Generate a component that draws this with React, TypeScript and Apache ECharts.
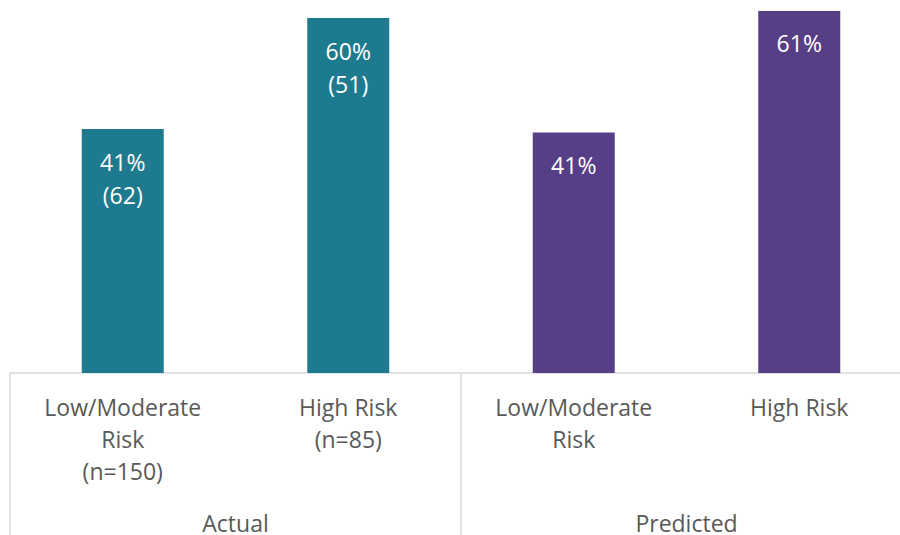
import React, { useEffect, useRef } from "react";
import * as echarts from "echarts";

const categories = ["Low/Moderate\nRisk\n(n=150)", "High Risk\n(n=85)", "Low/Moderate\nRisk", "High Risk"];
const groups = ["Actual", "Predicted"];
const actualValues = [41.1, 59.8];
const predictedValues = [40.5, 61.0];
const actualCounts = [62, 51];
const percentLabels = ["41%", "60%", "41%", "61%"];

const TEAL = "#1E7B8F";
const PURPLE = "#573F88";
const FONT = "Open Sans";

export default function App() {
  const ref = useRef<HTMLDivElement>(null);
  useEffect(() => {
    document.body.style.margin = "0";
    const chart = echarts.init(ref.current!, undefined, { renderer: "svg" });
    const data = [
      ...actualValues.map((v, i) => ({
        value: v,
        itemStyle: { color: TEAL },
        label: { formatter: `${percentLabels[i]}\n(${actualCounts[i]})` },
      })),
      ...predictedValues.map((v, i) => ({
        value: v,
        itemStyle: { color: PURPLE },
        label: { formatter: percentLabels[i + 2] },
      })),
    ];
    chart.setOption({
      animation: false,
      grid: { left: 10, width: 902, top: 5, height: 368 },
      xAxis: [
        {
          type: "category",
          data: categories,
          axisLine: { lineStyle: { color: "#D9D9D9", width: 1.5 } },
          axisTick: { show: false },
          axisLabel: {
            interval: 0,
            color: "#595959",
            fontFamily: FONT,
            fontSize: 23,
            lineHeight: 32,
            margin: 18,
            verticalAlign: "top",
          },
        },
        {
          type: "category",
          data: groups,
          position: "bottom",
          axisLine: { show: false },
          axisTick: {
            show: true,
            length: 170,
            inside: false,
            lineStyle: { color: "#D9D9D9", width: 1.5 },
          },
          axisLabel: {
            interval: 0,
            color: "#595959",
            fontFamily: FONT,
            fontSize: 23,
            margin: 138,
            verticalAlign: "top",
          },
        },
      ],
      yAxis: { type: "value", min: 0, max: 62, show: false },
      series: [
        {
          type: "bar",
          xAxisIndex: 0,
          barWidth: 82,
          data,
          label: {
            show: true,
            position: "insideTop",
            distance: 16,
            color: "#FFFFFF",
            fontFamily: FONT,
            fontSize: 23,
            lineHeight: 33,
          },
        },
      ],
    });
    return () => chart.dispose();
  }, []);
  return (
    <div style={{ width: 900, height: 535, overflow: "hidden" }}>
      <div ref={ref} style={{ width: 920, height: 535 }} />
    </div>
  );
}
